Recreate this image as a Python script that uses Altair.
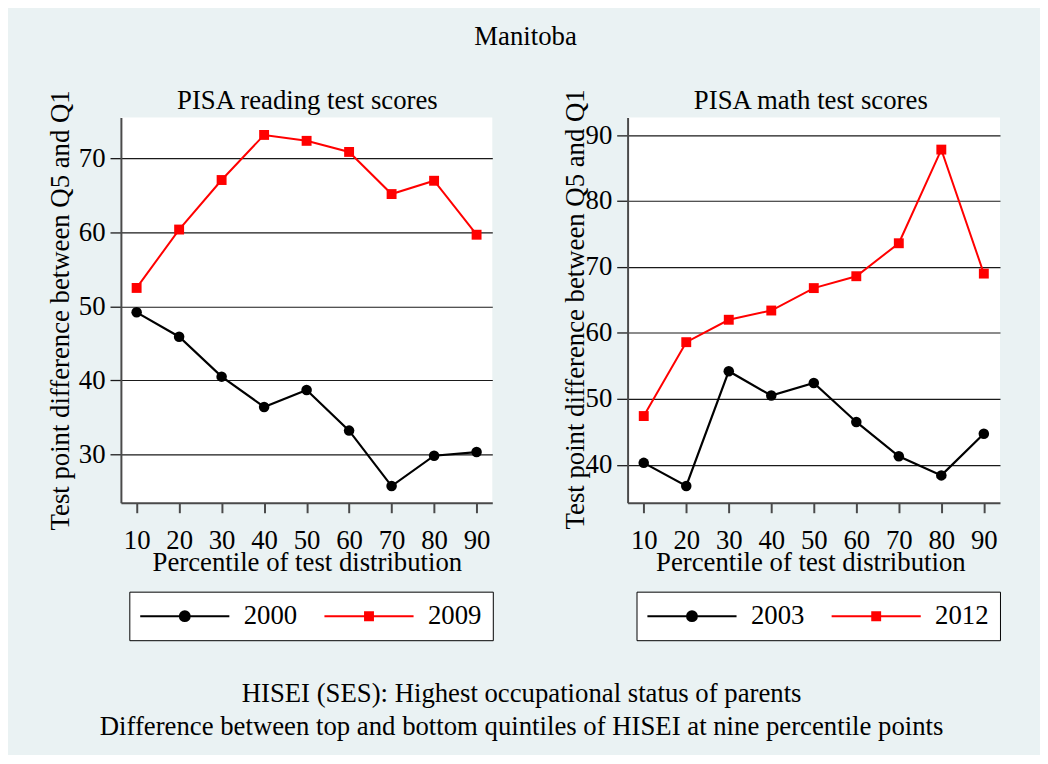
import altair as alt
import pandas as pd

# ---------------- data ----------------
percentiles = [10, 20, 30, 40, 50, 60, 70, 80, 90]

reading_years = ["2000", "2009"]
reading_2000 = [49.2, 45.9, 40.5, 36.4, 38.7, 33.2, 25.7, 29.8, 30.3]
reading_2009 = [52.5, 60.4, 67.1, 73.2, 72.4, 70.9, 65.2, 67.0, 59.7]

math_years = ["2003", "2012"]
math_2003 = [40.3, 36.8, 54.2, 50.5, 52.4, 46.5, 41.3, 38.4, 44.7]
math_2012 = [47.4, 58.6, 62.0, 63.4, 66.8, 68.6, 73.6, 87.8, 69.0]

x_ticks = [10, 20, 30, 40, 50, 60, 70, 80, 90]
reading_y_ticks = [30, 40, 50, 60, 70]
math_y_ticks = [40, 50, 60, 70, 80, 90]

main_title = "Manitoba"
reading_title = "PISA reading test scores"
math_title = "PISA math test scores"
x_title = "Percentile of test distribution"
y_title = "Test point difference between Q5 and Q1"
notes = [
    "HISEI (SES): Highest occupational status of parents",
    "Difference between top and bottom quintiles of HISEI at nine percentile points",
]

# ---------------- styling ----------------
FONT = "Liberation Serif"
FS = 27
BG = "#EAF2F3"
PLOT_H = 389

# legend symbols: a line with the marker on it (unit square scaled by sqrt(size)/2)
LINE_CIRCLE = ("M-7.5,0H7.5M-0.8333,0A0.8333,0.8333,0,1,1,0.8333,0"
               "A0.8333,0.8333,0,1,1,-0.8333,0Z")
LINE_SQUARE = "M-7.5,0H7.5M-0.6667,-0.6667H0.6667V0.6667H-0.6667Z"


def panel(subtitle, years, series_a, series_b, y_domain, y_ticks, width,
          x_domain, title_cx, ytitle_x, ytitle_y, legend_x):
    df = pd.DataFrame({
        "pct": percentiles * 2,
        "value": series_a + series_b,
        "series": [years[0]] * len(percentiles) + [years[1]] * len(percentiles),
    })
    xs = alt.Scale(domain=x_domain, nice=False, zero=False)
    ys = alt.Scale(domain=y_domain, nice=False, zero=False)

    x_bottom = alt.X(
        "pct:Q", scale=xs,
        axis=alt.Axis(orient="bottom", values=x_ticks, title=x_title, grid=False,
                      tickSize=10, tickWidth=2, labelPadding=36.5,
                      labelBaseline="alphabetic", labelFlush=False,
                      titleX=title_cx, titleY=68, titleBaseline="alphabetic",
                      titleAlign="center"))
    x_none = alt.X("pct:Q", scale=xs, axis=None)
    x_top = alt.X(
        "pct:Q", scale=xs,
        axis=alt.Axis(orient="top", title=subtitle, grid=False, labels=False,
                      ticks=False, domain=False, titleX=title_cx, titleY=-9,
                      titleBaseline="alphabetic", titleAlign="center"))
    y_enc = alt.Y(
        "value:Q", scale=ys,
        axis=alt.Axis(orient="left", values=y_ticks, title=y_title, grid=True,
                      tickSize=11, tickWidth=1.3, tickColor="#1a1a1a", labelPadding=5,
                      titleX=ytitle_x, titleY=ytitle_y, titleAngle=270,
                      titleBaseline="alphabetic", titleAlign="center"))

    leg = alt.Legend(title=None, orient="none", legendX=legend_x, legendY=478.7,
                     direction="horizontal", symbolSize=144, symbolStrokeWidth=2,
                     symbolOpacity=1, symbolOffset=31.5, labelOffset=46,
                     columnPadding=23, padding=11, strokeColor="black",
                     fillColor="white", cornerRadius=0, labelFont=FONT,
                     labelFontSize=FS, labelColor="black")

    legend_layer = alt.Chart().mark_point(filled=True, opacity=0).encode(
        x=x_top, y=y_enc,
        fill=alt.Fill("series:N", scale=alt.Scale(domain=years, range=["black", "red"]), legend=leg),
        stroke=alt.Stroke("series:N", scale=alt.Scale(domain=years, range=["black", "red"]), legend=leg),
        shape=alt.Shape("series:N", scale=alt.Scale(domain=years, range=[LINE_CIRCLE, LINE_SQUARE]), legend=leg),
    )
    line_a = alt.Chart().mark_line(color="black", strokeWidth=2.2).encode(
        x=x_bottom, y=y_enc).transform_filter(alt.datum.series == years[0])
    line_b = alt.Chart().mark_line(color="#FF0000", strokeWidth=2).encode(
        x=x_none, y=y_enc).transform_filter(alt.datum.series == years[1])
    pts_a = alt.Chart().mark_point(shape="circle", filled=True, size=113, color="black",
                                   opacity=1).encode(
        x=x_none, y=y_enc).transform_filter(alt.datum.series == years[0])
    pts_b = alt.Chart().mark_point(shape="square", filled=True, size=100, color="#FF0000",
                                   opacity=1).encode(
        x=x_none, y=y_enc).transform_filter(alt.datum.series == years[1])

    return alt.layer(legend_layer, line_a, line_b, pts_a, pts_b, data=df).properties(
        width=width, height=PLOT_H)


left = panel(reading_title, reading_years, reading_2000, reading_2009,
             [23.43, 75.55], reading_y_ticks, 375, [6.3, 93.7],
             187.8, -52.7, 194.2, 8.5)
right = panel(math_title, math_years, math_2003, math_2012,
              [34.24, 92.66], math_y_ticks, 376, [6.2, 93.8],
              184.5, -44.7, 193.2, 9)

inner = alt.hconcat(
    left, right, spacing=64.6,
    title=alt.TitleParams(text=notes, orient="bottom", anchor="middle", frame="bounds",
                          baseline="alphabetic", offset=61.7, lineHeight=34, dx=-4,
                          font=FONT, fontSize=FS, fontWeight="normal", color="black"),
).resolve_scale(
    fill="independent", stroke="independent", shape="independent"
).resolve_legend(
    fill="independent", stroke="independent", shape="independent"
)

chart = alt.vconcat(
    inner, spacing=0,
    title=alt.TitleParams(text=main_title, anchor="middle", frame="bounds",
                          baseline="alphabetic", offset=15.1, font=FONT, fontSize=FS,
                          fontWeight="normal", color="black"),
    padding={"left": 39, "top": 11, "right": 36, "bottom": 11},
    background=BG,
).configure_view(stroke=None, fill="white").configure_axis(
    labelFont=FONT, labelFontSize=FS, labelColor="black",
    titleFont=FONT, titleFontSize=FS, titleFontWeight="normal", titleColor="black",
    domainColor="#4a4a4a", domainWidth=2, tickColor="#4a4a4a",
    gridColor="#1a1a1a", gridWidth=1.2,
)

chart.save("out.html", embed_options={"renderer": "svg", "actions": False})
